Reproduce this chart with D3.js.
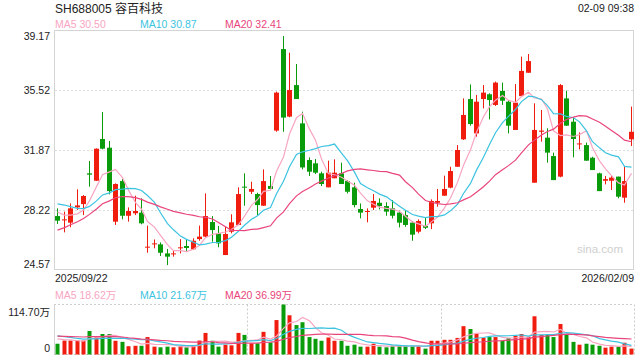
<!DOCTYPE html>
<html lang="zh">
<head>
<meta charset="UTF-8">
<title>SH688005 容百科技</title>
<script src="https://d3js.org/d3.v7.min.js"></script>
<style>
  body { margin: 0; background: #fff; }
  text { font-family: "Liberation Sans", Arial, "Noto Sans CJK SC", sans-serif; }
</style>
</head>
<body>
<div id="chart"></div>
<script>
// daily bars, 2025/09/22 .. 2026/02/09
var opens = [27.85,27.60,27.45,28.38,28.58,30.45,30.00,32.54,32.01,27.51,
             29.98,27.87,28.02,28.06,25.93,26.13,26.13,25.58,25.52,25.89,
             26.03,25.83,26.45,26.60,27.49,26.80,25.48,26.90,27.31,29.64,
             29.33,29.19,28.48,29.68,33.05,38.01,33.90,35.82,33.49,31.26,
             31.06,30.45,29.60,30.15,30.45,29.98,29.60,28.28,28.10,28.36,
             28.66,28.46,28.32,28.06,27.91,27.45,26.90,27.25,27.41,28.66,
             29.09,29.58,30.85,32.52,34.97,32.88,34.97,35.26,34.61,35.46,
             34.81,33.09,35.15,36.57,29.88,32.98,32.62,31.50,30.25,35.01,
             33.59,32.21,32.17,31.40,30.45,30.00,30.00,30.25,28.97,32.52];
var closes = [27.57,27.65,28.32,28.50,29.07,30.37,31.95,31.95,29.37,29.80,
              27.87,28.16,28.16,27.41,25.99,26.19,25.62,25.38,25.58,25.95,
              25.91,26.35,26.60,27.85,27.00,26.19,26.76,27.47,29.19,29.60,
              29.50,28.52,29.98,29.50,35.36,33.84,35.52,34.97,30.81,30.55,
              30.49,29.80,30.49,30.49,29.80,29.33,28.52,28.06,28.16,28.77,
              28.46,28.12,27.87,27.45,27.31,26.72,27.55,27.14,28.77,28.77,
              29.50,30.59,31.87,34.00,33.45,34.81,35.36,34.91,35.97,34.87,
              33.35,34.75,36.68,37.28,33.09,33.05,31.71,30.04,35.82,33.35,
              32.54,32.27,31.22,30.65,29.37,30.10,30.19,29.03,29.98,32.98];
var highs = [28.32,28.12,28.62,29.48,29.13,31.20,31.97,34.18,32.42,29.84,
             30.10,28.38,29.09,28.93,27.27,26.43,26.25,25.85,25.74,26.45,
             26.43,26.50,27.27,29.23,27.85,27.25,27.21,27.96,29.60,30.45,
             29.94,29.27,30.69,30.29,35.42,38.80,37.79,37.10,34.20,31.42,
             31.32,30.55,31.22,31.30,31.10,30.04,29.88,28.62,28.32,29.19,
             28.93,28.69,28.83,28.18,28.22,27.55,27.65,27.77,28.87,29.50,
             30.31,30.85,32.17,35.01,35.86,35.22,35.82,35.32,36.03,35.97,
             34.91,35.88,37.55,37.71,34.71,34.30,33.19,31.71,35.88,35.48,
             33.86,32.94,32.32,31.46,30.49,30.29,30.29,30.25,30.85,34.51];
var lows = [27.37,26.86,27.17,28.22,27.91,29.64,29.98,31.91,29.17,27.31,
            27.65,27.51,27.91,27.35,25.62,25.89,25.42,24.87,25.38,25.58,
            25.72,25.79,26.35,26.56,26.29,25.95,25.48,26.80,27.31,28.48,
            29.19,27.91,28.48,29.50,32.98,32.98,33.86,34.97,30.69,30.29,
            30.41,29.68,29.60,30.15,29.80,29.23,28.38,27.71,27.47,28.22,
            28.26,27.87,27.71,27.16,27.20,26.35,26.80,27.06,27.06,28.42,
            29.09,29.54,30.85,32.48,33.35,32.68,34.40,33.73,34.55,34.61,
            32.88,33.09,35.15,36.57,29.88,32.38,31.10,30.04,30.21,33.35,
            31.42,31.91,31.22,30.65,29.37,29.78,29.44,28.93,28.66,32.11];
// volume in 万 shares
var volumes = [24.7,32,32,32,32,54,39,47,47,31.5,
               29,19,20,20,40,18,16.5,18,16.5,20,
               16.5,20,32,49.5,31.5,18,22.5,21,49.5,45,
               25.7,25.7,52,27.7,79,114.7,90,67.5,74,40,
               36,31.5,39,31.5,31.5,20,22.5,18,18,24.7,
               18,16.5,20,20,20,20,20,13.5,31.5,31.5,
               33.7,33.7,38,65,58.5,47,38,40,40,31.5,
               38,42.7,47,40.5,87.7,45,45,40,70,45,
               29,22.5,24.7,22.5,20,15.7,18,18,27,13.5];
// sessions before the window, only used to seed the moving averages
var priorCloses = [24.6,24.8,25.0,25.1,25.3,25.4,25.6,25.8,26.0,26.4,
                   28.4,29.3,29.6,29.2,29.0,28.6,28.3,28.1,27.9];
var priorVolumes = [38,44,40,42,36,45,41,39,43,45,
                    52,48,55,46,46,40,37,41,37];

var priceTicks = [39.17, 35.52, 31.87, 28.22, 24.57];
var volTicks = [0, 114.70];
var dateLabels = ["2025/09/22", "2026/02/09"];
var title = "SH688005 容百科技";
var stamp = "02-09 09:38";
var maLegend = [["MA5", "30.50"], ["MA10", "30.87"], ["MA20", "32.41"]];
var volLegend = [["MA5", "18.62万"], ["MA10", "21.67万"], ["MA20", "36.99万"]];

var W = 640, H = 360;
var left = 54, right = 634;
var top1 = 30, bot1 = 270;
var top2 = 304.5, bot2 = 354.5;
var UP = "#f01c0e", DOWN = "#0a9b0a";
var maColors = ["#f8a5c2", "#3cc3e0", "#e9457c"];

var svg = d3.select("#chart").append("svg")
    .attr("width", W).attr("height", H);

var n = closes.length;
var x = d3.scaleBand().domain(d3.range(n)).range([left, right]);
var cx = function(i) { return Math.round(x(i) + x.bandwidth() / 2) + 0.5; };
var y = d3.scaleLinear().domain([24.57, 39.17]).range([bot1, top1]);
var yv = d3.scaleLinear().domain([0, 114.70]).range([bot2, top2]);

function movingAvg(prior, vals, len) {
    var all = prior.concat(vals);
    return vals.map(function(d, i) {
        var end = i + prior.length;
        return d3.mean(all.slice(end - len + 1, end + 1));
    });
}

// frames and grid
svg.append("rect")
    .attr("x", left + 0.5).attr("y", top1 + 0.5)
    .attr("width", right - left - 1).attr("height", bot1 - top1 - 1)
    .attr("fill", "none").attr("stroke", "#d4d4d4");

svg.selectAll(".grid").data(priceTicks.slice(1, -1)).enter().append("line")
    .attr("x1", left + 1).attr("x2", right - 1)
    .attr("y1", function(d) { return Math.round(y(d)) + 0.5; })
    .attr("y2", function(d) { return Math.round(y(d)) + 0.5; })
    .attr("stroke", "#ddd").attr("stroke-dasharray", "2,2");

svg.append("line").attr("x1", left + 0.5).attr("x2", left + 0.5)
    .attr("y1", top2).attr("y2", bot2).attr("stroke", "#d4d4d4");
[top2, bot2].forEach(function(yy) {
    svg.append("line").attr("x1", left).attr("x2", right)
        .attr("y1", yy).attr("y2", yy)
        .attr("stroke", "#ccc").attr("stroke-dasharray", "2,2");
});
[left + (right - left) / 3, left + 2 * (right - left) / 3, right - 0.5].forEach(function(xx) {
    xx = Math.round(xx) + 0.5;
    svg.append("line").attr("x1", xx).attr("x2", xx)
        .attr("y1", top2).attr("y2", bot2)
        .attr("stroke", "#ccc").attr("stroke-dasharray", "2,2");
});

// watermark
svg.append("text").attr("x", 623).attr("y", 253).attr("text-anchor", "end")
    .attr("font-size", 11.5).attr("fill", "#cfcfcf").text("sina.com");

// candles
var bars = d3.range(n).map(function(i) {
    return { i: i, o: opens[i], c: closes[i], h: highs[i], l: lows[i], v: volumes[i] };
});
var col = function(d) { return d.c >= d.o ? UP : DOWN; };

var candle = svg.append("g").selectAll("g").data(bars).enter().append("g");
candle.append("line")
    .attr("x1", function(d) { return cx(d.i); })
    .attr("x2", function(d) { return cx(d.i); })
    .attr("y1", function(d) { return y(d.h); })
    .attr("y2", function(d) { return y(d.l); })
    .attr("stroke", col);
candle.append("rect")
    .attr("x", function(d) { return cx(d.i) - 2.5; })
    .attr("width", 5)
    .attr("y", function(d) { return y(Math.max(d.o, d.c)); })
    .attr("height", function(d) { return Math.max(1, Math.abs(y(d.o) - y(d.c))); })
    .attr("fill", col);

// volume bars
svg.append("g").selectAll("rect").data(bars).enter().append("rect")
    .attr("x", function(d) { return cx(d.i) - 2; })
    .attr("width", 4)
    .attr("y", function(d) { return yv(d.v); })
    .attr("height", function(d) { return bot2 - yv(d.v); })
    .attr("fill", col);

// moving averages
[5, 10, 20].forEach(function(len, k) {
    var pm = movingAvg(priorCloses, closes, len);
    var vm = movingAvg(priorVolumes, volumes, len);
    svg.append("path").datum(pm)
        .attr("fill", "none").attr("stroke", maColors[k]).attr("stroke-width", 1.2)
        .attr("d", d3.line().x(function(d, i) { return cx(i); }).y(function(d) { return y(d); }));
    svg.append("path").datum(vm)
        .attr("fill", "none").attr("stroke", maColors[k]).attr("stroke-width", 1.2)
        .attr("d", d3.line().x(function(d, i) { return cx(i); }).y(function(d) { return yv(d); }));
});

// price axis
var ax = svg.append("g").attr("transform", "translate(" + left + ",0)")
    .call(d3.axisLeft(y).tickValues(priceTicks).tickSize(0).tickPadding(4)
        .tickFormat(d3.format(".2f")));
ax.select(".domain").remove();
ax.selectAll("text").attr("font-size", 10.5).attr("fill", "#222")
    .attr("font-family", "Liberation Sans, Arial, sans-serif")
    .attr("dy", function(d, i) { return i === 0 ? "0.95em" : (i === priceTicks.length - 1 ? "-0.2em" : "0.32em"); });

// volume axis
var vax = svg.append("g").attr("transform", "translate(" + left + ",0)")
    .call(d3.axisLeft(yv).tickValues(volTicks).tickSize(0).tickPadding(4)
        .tickFormat(function(d) { return d === 0 ? "0" : d3.format(".2f")(d) + "万"; }));
vax.select(".domain").remove();
vax.selectAll("text").attr("font-size", 10.5).attr("fill", "#222")
    .attr("font-family", "Liberation Sans, Arial, Noto Sans CJK SC, sans-serif")
    .attr("dy", function(d) { return d === 0 ? "-0.25em" : "1.0em"; });

// header texts
svg.append("text").attr("x", left + 1).attr("y", 12.5)
    .attr("font-size", 12).attr("fill", "#222").text(title);
svg.append("text").attr("x", right).attr("y", 11.5).attr("text-anchor", "end")
    .attr("font-size", 10.5).attr("fill", "#222").text(stamp);

function legend(items, yy) {
    items.forEach(function(it, k) {
        svg.append("text").attr("x", left + 1 + k * 85).attr("y", yy)
            .attr("font-size", 10.5).attr("fill", maColors[k])
            .text(it[0] + " " + it[1]);
    });
}
legend(maLegend, 28);
legend(volLegend, 298.5);

svg.append("text").attr("x", left + 1).attr("y", 282)
    .attr("font-size", 10.5).attr("fill", "#222").text(dateLabels[0]);
svg.append("text").attr("x", right).attr("y", 282).attr("text-anchor", "end")
    .attr("font-size", 10.5).attr("fill", "#222").text(dateLabels[1]);
</script>
</body>
</html>
